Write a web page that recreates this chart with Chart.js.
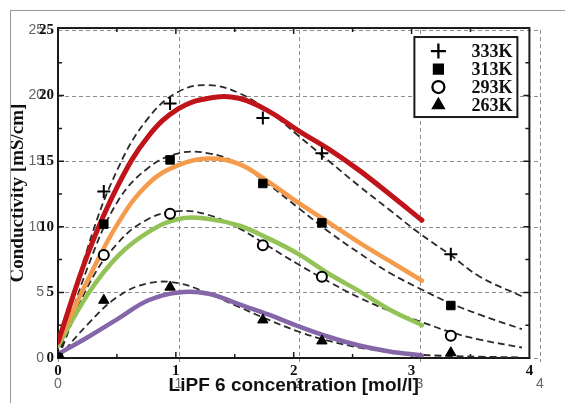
<!DOCTYPE html>
<html>
<head>
<meta charset="utf-8">
<script src="https://cdn.jsdelivr.net/npm/chart.js@4/dist/chart.umd.min.js"></script>
<style>
  html, body { margin: 0; padding: 0; background: #fff; }
  #wrap { position: relative; width: 565px; height: 403px; }
  #frame { position: absolute; left: 10px; top: 10px; right: 0; bottom: 0;
           border-top: 1px solid #9a9a9a; border-left: 1px solid #9a9a9a; pointer-events: none; }
</style>
</head>
<body>
<div id="wrap">
  <canvas id="c" width="565" height="403"></canvas>
  <div id="frame"></div>
</div>
<script>
// ---- data ----
const seriesLabels = ['333K', '313K', '293K', '263K'];

// measured points (markers)
const measX   = [0, 0.38, 0.93, 1.70, 2.19, 3.26];
const meas333 = [0, 12.7, 19.4, 18.3, 15.6, 7.9];
const meas313 = [0, 10.2, 15.1, 13.3, 10.3, 4.0];
const meas293 = [0, 7.85, 11.0, 8.6, 6.2, 1.7];
const meas263 = [0, 4.4, 5.4, 2.9, 1.3, 0.4];

// dashed fit curves
const fitX   = [0, 0.25, 0.5, 0.75, 1, 1.25, 1.5, 1.75, 2, 2.25, 2.5, 2.75, 3, 3.25, 3.5, 3.85];
const fit333 = [0, 8.5, 14.5, 18.3, 20.3, 20.8, 20.2, 18.8, 16.9, 15.0, 13.1, 11.3, 9.5, 7.9, 6.2, 4.7];
const fit313 = [0, 7.0, 12.0, 14.5, 15.6, 15.6, 14.8, 13.2, 11.4, 9.6, 8.0, 6.5, 5.3, 4.2, 3.3, 2.2];
const fit293 = [0, 5.5, 8.8, 10.6, 11.2, 10.9, 9.9, 8.5, 7.1, 5.8, 4.6, 3.6, 2.8, 2.0, 1.4, 0.8];
const fit263 = [0, 2.6, 4.7, 5.7, 5.7, 4.9, 3.9, 2.9, 2.0, 1.3, 0.8, 0.45, 0.25, 0.15, 0.1, 0.05];

// coloured model curves
const modelX   = [0, 0.25, 0.5, 0.75, 1, 1.25, 1.5, 1.75, 2, 2.25, 2.5, 2.75, 3.02];
const model333 = [1.2, 8.0, 13.2, 16.9, 19.0, 19.8, 19.8, 18.8, 17.3, 15.9, 14.3, 12.5, 10.5];
const model313 = [1.1, 6.0, 10.3, 13.3, 14.7, 15.2, 14.8, 13.4, 11.8, 10.3, 8.8, 7.4, 5.9];
const model293 = [0.9, 4.9, 7.8, 9.6, 10.6, 10.6, 10.1, 9.1, 7.9, 6.4, 5.1, 3.7, 2.5];
const model263 = [0.3, 1.6, 3.0, 4.4, 5.0, 4.9, 4.1, 3.3, 2.4, 1.6, 0.95, 0.5, 0.2];

const xTicks = [0, 1, 2, 3, 4];
const yTicks = [0, 5, 10, 15, 20, 25];
const xTitle = 'LiPF 6 concentration [mol/l]';
const yTitle = 'Conductivity [mS/cm]';

const colors = ['#bf1419', '#f59b4c', '#93c256', '#8566a8'];
const markerStyles = [
  { pointStyle: 'cross', radius: 6.5, bw: 2, bg: '#000' },
  { pointStyle: 'rect', radius: 6, bw: 1, bg: '#000' },
  { pointStyle: 'circle', radius: 5, bw: 2, bg: '#fff' },
  { pointStyle: 'triangle', radius: 6, bw: 1, bg: '#000' }
];

const zip = (xs, ys) => xs.map((x, i) => ({ x: x, y: ys[i] }));

const fits = [fit333, fit313, fit293, fit263];
const models = [model333, model313, model293, model263];
const meas = [meas333, meas313, meas293, meas263];

const datasets = [];
fits.forEach((f, i) => datasets.push({
  type: 'line', label: 'fit ' + seriesLabels[i], data: zip(fitX, f),
  borderColor: '#2a2a2a', borderWidth: 1.8, borderDash: [7, 4], pointRadius: 0,
  tension: 0.4, fill: false, order: 3
}));
models.forEach((m, i) => datasets.push({
  type: 'line', label: 'model ' + seriesLabels[i], data: zip(modelX, m),
  borderColor: colors[i], borderWidth: i === 0 ? 5 : 4.5, pointRadius: 0,
  tension: 0.4, fill: false, order: 2, borderCapStyle: 'round'
}));
meas.forEach((m, i) => datasets.push({
  type: 'scatter', label: seriesLabels[i], data: zip(measX, m),
  pointStyle: markerStyles[i].pointStyle, pointRadius: markerStyles[i].radius,
  pointBorderWidth: markerStyles[i].bw, pointBackgroundColor: markerStyles[i].bg,
  pointBorderColor: '#000', borderColor: '#000', backgroundColor: markerStyles[i].bg,
  showLine: false, order: 1
}));

const serifBold = 'bold 15px "Liberation Serif", "DejaVu Serif", serif';

const paperFrame = {
  id: 'paperFrame',
  beforeDatasetsDraw(chart) {
    const ctx = chart.ctx, xo = chart.scales.xo, x = chart.scales.x, y = chart.scales.y;
    const area = chart.chartArea;
    ctx.save();
    // dashed overlay grid
    ctx.strokeStyle = '#8f8f8f'; ctx.lineWidth = 1; ctx.setLineDash([4, 3]);
    ctx.beginPath();
    xTicks.forEach(v => { const px = Math.round(x.getPixelForValue(v)) + 0.5; ctx.moveTo(px, area.top); ctx.lineTo(px, area.bottom + 4); });
    yTicks.forEach(v => { const py = Math.round(y.getPixelForValue(v)) + 0.5; ctx.moveTo(area.left, py); ctx.lineTo(area.right, py); });
    ctx.stroke();
    ctx.setLineDash([]);
    // original figure frame
    const L = xo.getPixelForValue(0), R = xo.getPixelForValue(4);
    const T = y.getPixelForValue(25.15), B = y.getPixelForValue(0);
    ctx.strokeStyle = '#1a1a1a';
    ctx.lineWidth = 2;
    ctx.strokeRect(L, T, R - L, B - T);
    ctx.lineWidth = 1.5;
    ctx.beginPath();
    for (let v = 0.5; v < 4; v += 0.5) {
      const px = xo.getPixelForValue(v);
      const len = (v % 1 === 0) ? 6 : 4;
      ctx.moveTo(px, B); ctx.lineTo(px, B - len);
      ctx.moveTo(px, T); ctx.lineTo(px, T + len);
    }
    for (let v = 2.5; v < 25; v += 2.5) {
      const py = y.getPixelForValue(v);
      const len = (v % 5 === 0) ? 6 : 4;
      ctx.moveTo(L, py); ctx.lineTo(L + len, py);
      ctx.moveTo(R, py); ctx.lineTo(R - len, py);
    }
    ctx.stroke();
    ctx.restore();
  },
  afterDraw(chart) {
    const ctx = chart.ctx, xo = chart.scales.xo, y = chart.scales.y;
    const L = xo.getPixelForValue(0), R = xo.getPixelForValue(4);
    const T = y.getPixelForValue(25.15), B = y.getPixelForValue(0);
    ctx.save();
    ctx.fillStyle = '#111';
    // original bold tick labels
    ctx.font = serifBold;
    ctx.textAlign = 'center'; ctx.textBaseline = 'middle';
    xTicks.forEach(v => ctx.fillText(String(v), xo.getPixelForValue(v), B + 13));
    ctx.textAlign = 'right';
    yTicks.forEach(v => ctx.fillText(String(v), L - 4, y.getPixelForValue(v)));
    // axis titles
    ctx.textAlign = 'center';
    ctx.font = 'bold 19px "Liberation Sans", Arial, sans-serif';
    ctx.fillText(xTitle, (L + R) / 2, B + 28);
    ctx.save();
    ctx.translate(L - 40, (T + B) / 2);
    ctx.rotate(-Math.PI / 2);
    ctx.font = 'bold 19px "Liberation Serif", "DejaVu Serif", serif';
    ctx.fillText(yTitle, 0, 0);
    ctx.restore();
    // legend box
    const bw = 103, bh = 80;
    const bx = R - 12 - bw, by = T + 9;
    ctx.fillStyle = '#fff';
    ctx.fillRect(bx, by, bw, bh);
    ctx.strokeStyle = '#1a1a1a'; ctx.lineWidth = 2;
    ctx.strokeRect(bx, by, bw, bh);
    ctx.font = 'bold 18px "Liberation Serif", "DejaVu Serif", serif';
    ctx.textAlign = 'right'; ctx.textBaseline = 'middle';
    seriesLabels.forEach((lab, i) => {
      const cy = by + 14 + i * 18;
      const ms = markerStyles[i];
      ctx.fillStyle = ms.bg; ctx.strokeStyle = '#000';
      ctx.lineWidth = ms.bw + 0.3;
      Chart.helpers.drawPoint(ctx, { pointStyle: ms.pointStyle, radius: ms.radius + 1, rotation: 0, borderWidth: ms.bw }, bx + 24, cy);
      ctx.fillStyle = '#111';
      ctx.fillText(lab, bx + bw - 5, cy + 1);
    });
    ctx.restore();
  }
};

new Chart(document.getElementById('c'), {
  type: 'scatter',
  data: { datasets: datasets },
  options: {
    responsive: false, animation: false, devicePixelRatio: 1,
    layout: { padding: { top: 30, right: 25, left: 0, bottom: 0 } },
    plugins: { legend: { display: false }, tooltip: { enabled: false } },
    scales: {
      x: {
        type: 'linear', min: 0, max: 4,
        afterBuildTicks: s => { s.ticks = xTicks.map(v => ({ value: v })); },
        afterFit: s => { s.height = 45; },
        grid: { display: false, drawTicks: false }, border: { display: false },
        ticks: { color: '#666', font: { size: 14, family: 'Liberation Sans' }, padding: 18 }
      },
      xo: { type: 'linear', min: 0, max: 4.09, display: false, position: 'bottom' },
      y: {
        type: 'linear', min: 0, max: 25,
        afterBuildTicks: s => { s.ticks = yTicks.map(v => ({ value: v })); },
        afterFit: s => { s.width = 58; },
        grid: { display: false, drawTicks: false }, border: { display: false },
        ticks: { color: '#666', font: { size: 14, family: 'Liberation Sans' }, padding: 14 }
      }
    }
  },
  plugins: [paperFrame]
});
</script>
</body>
</html>
